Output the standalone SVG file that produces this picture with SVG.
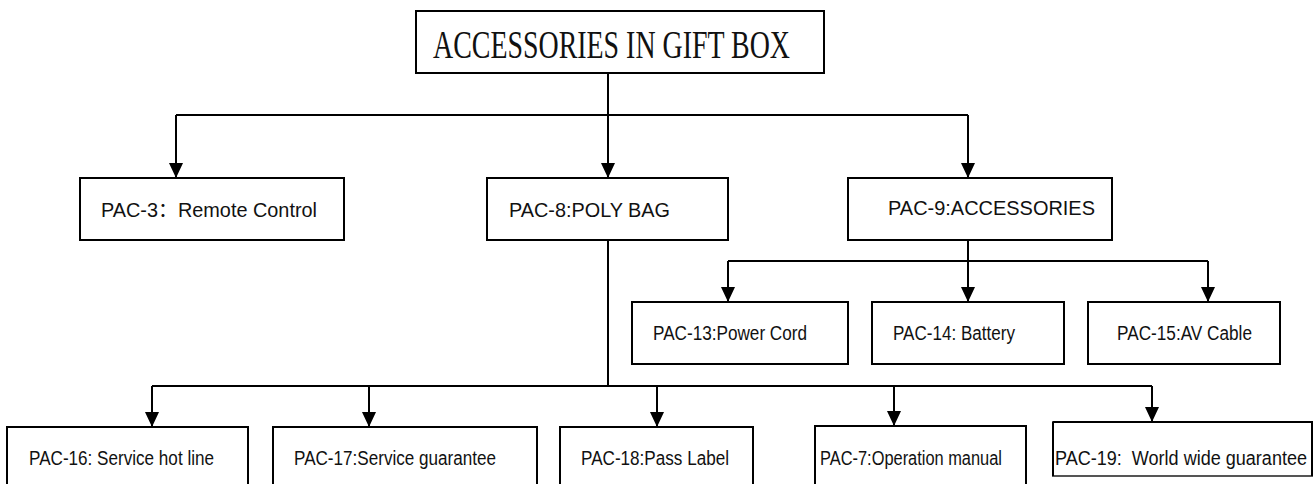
<svg xmlns="http://www.w3.org/2000/svg" width="1314" height="484" viewBox="0 0 1314 484">
<style>
.box{fill:#fff;stroke:#000;stroke-width:2}
.lbl{font-family:"Liberation Sans",Arial,"Noto Sans CJK SC",sans-serif;font-size:20px;fill:#111}
.ttl{font-family:"Liberation Serif","Times New Roman",serif;font-size:39px;fill:#111}
.ln{fill:none;stroke:#000;stroke-width:2}
</style>
<defs>
<marker id="ah" viewBox="0 0 15 14" refX="15" refY="7" markerWidth="15" markerHeight="14" markerUnits="userSpaceOnUse" orient="auto">
<path d="M0,0 L15,7 L0,14 z" fill="#000"/>
</marker>
</defs>
<rect width="1314" height="484" fill="#fff"/>
<g id="connectors">
<path class="ln" d="M608,73 V115"/>
<path class="ln" d="M176,115 H968"/>
<path class="ln" d="M176,115 V178" marker-end="url(#ah)"/>
<path class="ln" d="M608,115 V178" marker-end="url(#ah)"/>
<path class="ln" d="M968,115 V178" marker-end="url(#ah)"/>
<path class="ln" d="M968,240 V261"/>
<path class="ln" d="M728,261 H1208"/>
<path class="ln" d="M728,261 V302" marker-end="url(#ah)"/>
<path class="ln" d="M968,261 V302" marker-end="url(#ah)"/>
<path class="ln" d="M1208,261 V302" marker-end="url(#ah)"/>
<path class="ln" d="M608,240 V386"/>
<path class="ln" d="M152,386 H1152"/>
<path class="ln" d="M152,386 V427" marker-end="url(#ah)"/>
<path class="ln" d="M369,386 V427" marker-end="url(#ah)"/>
<path class="ln" d="M657,386 V427" marker-end="url(#ah)"/>
<path class="ln" d="M894,386 V426" marker-end="url(#ah)"/>
<path class="ln" d="M1152,386 V422" marker-end="url(#ah)"/>
</g>
<g id="root">
<rect class="box" x="416" y="11" width="408" height="62"/>
<text class="ttl" x="433" y="58" textLength="357" lengthAdjust="spacingAndGlyphs">ACCESSORIES IN GIFT BOX</text>
</g>
<g id="pac3">
<rect class="box" x="80" y="178" width="264" height="62"/>
<text class="lbl" x="101" y="216.5" textLength="216" lengthAdjust="spacingAndGlyphs">PAC-3：Remote Control</text>
</g>
<g id="pac8">
<rect class="box" x="487" y="178" width="241" height="62"/>
<text class="lbl" x="509" y="216.5" textLength="161" lengthAdjust="spacingAndGlyphs">PAC-8:POLY BAG</text>
</g>
<g id="pac9">
<rect class="box" x="848" y="178" width="264" height="62"/>
<text class="lbl" x="888" y="215" textLength="207" lengthAdjust="spacingAndGlyphs">PAC-9:ACCESSORIES</text>
</g>
<g id="pac13">
<rect class="box" x="632" y="302" width="216" height="62"/>
<text class="lbl" x="653" y="340" textLength="154" lengthAdjust="spacingAndGlyphs">PAC-13:Power Cord</text>
</g>
<g id="pac14">
<rect class="box" x="872" y="302" width="192" height="62"/>
<text class="lbl" x="893" y="340" textLength="122" lengthAdjust="spacingAndGlyphs">PAC-14: Battery</text>
</g>
<g id="pac15">
<rect class="box" x="1088" y="302" width="192" height="62"/>
<text class="lbl" x="1117" y="340" textLength="135" lengthAdjust="spacingAndGlyphs">PAC-15:AV Cable</text>
</g>
<g id="pac16">
<rect class="box" x="7" y="427" width="241" height="70"/>
<text class="lbl" x="29" y="465" textLength="185" lengthAdjust="spacingAndGlyphs">PAC-16: Service hot line</text>
</g>
<g id="pac17">
<rect class="box" x="273" y="427" width="264" height="70"/>
<text class="lbl" x="294" y="465" textLength="202" lengthAdjust="spacingAndGlyphs">PAC-17:Service guarantee</text>
</g>
<g id="pac18">
<rect class="box" x="560" y="427" width="193" height="70"/>
<text class="lbl" x="581" y="465" textLength="148" lengthAdjust="spacingAndGlyphs">PAC-18:Pass Label</text>
</g>
<g id="pac7">
<rect class="box" x="815" y="426" width="211" height="70"/>
<text class="lbl" x="820" y="465" textLength="182" lengthAdjust="spacingAndGlyphs">PAC-7:Operation manual</text>
</g>
<g id="pac19">
<rect class="box" x="1053" y="422" width="259" height="54" style="stroke:#555"/>
<path d="M1053,422 H1312 V476 M1053,422 V476" fill="none" stroke="#000" stroke-width="2"/>
<text class="lbl" x="1055" y="465" textLength="252" lengthAdjust="spacingAndGlyphs" xml:space="preserve">PAC-19:  World wide guarantee</text>
</g>
</svg>
